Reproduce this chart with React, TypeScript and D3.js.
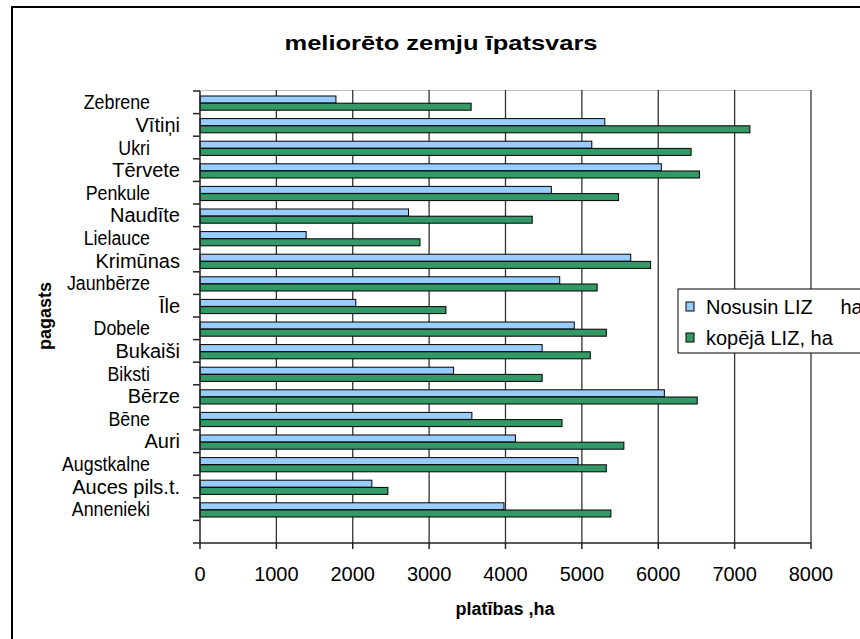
import React from "react";
import * as d3 from "d3";

const categories: string[] = [
  "", "Annenieki", "Auces pils.t.", "Augstkalne", "Auri", "Bēne", "Bērze", "Biksti",
  "Bukaiši", "Dobele", "Īle", "Jaunbērze", "Krimūnas", "Lielauce", "Naudīte",
  "Penkule", "Tērvete", "Ukri", "Vītiņi", "Zebrene",
];
const nosusin: (number | null)[] = [
  null, 3980, 2250, 4950, 4130, 3560, 6080, 3320, 4480, 4900, 2040, 4710, 5640,
  1390, 2730, 4600, 6040, 5130, 5300, 1780,
];
const kopeja: (number | null)[] = [
  null, 5380, 2460, 5320, 5550, 4740, 6510, 4480, 5110, 5320, 3220, 5200, 5900,
  2880, 4350, 5480, 6540, 6430, 7200, 3550,
];
const seriesNames = ["Nosusin LIZ     ha", "kopējā LIZ, ha"];
const seriesColors = ["#99CCFF", "#339966"];
const xTicks = [0, 1000, 2000, 3000, 4000, 5000, 6000, 7000, 8000];
const title = "meliorēto zemju īpatsvars";
const xTitle = "platības ,ha";
const yTitle = "pagasts";

const FONT = "'Liberation Sans', Arial, sans-serif";

export default function App() {
  const left = 200, right = 811, top = 91, bottom = 543;
  const x = d3.scaleLinear().domain([0, 8000]).range([left, right]);
  const y = d3.scaleBand<string>()
    .domain(categories.map((c, i) => i + "|" + c).reverse())
    .range([top, bottom])
    .paddingInner(0)
    .paddingOuter(0);
  const bw = y.bandwidth();
  const keys = categories.map((c, i) => i + "|" + c);
  const series = [nosusin, kopeja];

  return (
    <svg width={860} height={639} style={{ position: "absolute", left: 0, top: 0, background: "#fff" }} fontFamily={FONT}>
      <rect x={0} y={0} width={860} height={639} fill="#fff" />
      <rect x={12} y={7} width={900} height={700} fill="#fff" stroke="#000" strokeWidth={2} />
      <text x={441} y={50} fontSize={21} fontWeight="bold" textAnchor="middle" textLength={313} lengthAdjust="spacingAndGlyphs">{title}</text>

      {/* plot area border (top) */}
      <line x1={left} x2={right} y1={top - 0.5} y2={top - 0.5} stroke="#c0c0c0" strokeWidth={1} />
      {/* gridlines */}
      {xTicks.slice(1).map((t) => (
        <line key={"g" + t} x1={x(t)} x2={x(t)} y1={top - 1} y2={bottom} stroke="#333" strokeWidth={1.3} />
      ))}

      {/* bars */}
      {keys.map((k, i) =>
        series.map((s, si) => {
          const v = s[i];
          if (v == null) return null;
          const y0 = (y(k) as number) + 5 + si * 7.2;
          return (
            <rect key={k + si} x={x(0)} y={y0} width={x(v) - x(0)} height={7}
              fill={seriesColors[si]} stroke="#000" strokeWidth={1} />
          );
        })
      )}

      {/* axes */}
      <line x1={left} x2={left} y1={top} y2={bottom} stroke="#222" strokeWidth={1.5} />
      <line x1={left - 7} x2={right} y1={bottom} y2={bottom} stroke="#222" strokeWidth={1.5} />
      {keys.map((k) => (
        <line key={"yt" + k} x1={left - 7} x2={left} y1={y(k) as number} y2={y(k) as number} stroke="#222" strokeWidth={1.5} />
      ))}
      {xTicks.map((t) => (
        <g key={"xt" + t}>
          <line x1={x(t)} x2={x(t)} y1={bottom} y2={bottom + 6} stroke="#222" strokeWidth={1.5} />
          <text x={x(t)} y={581} fontSize={20} textAnchor="middle">{t}</text>
        </g>
      ))}

      {/* category labels */}
      {keys.map((k, i) => {
        const name = categories[i];
        if (!name) return null;
        const cy = (y(k) as number) + bw / 2 + 7;
        if (i % 2 === 1) {
          return (
            <text key={"l" + k} transform={`translate(150,${cy}) scale(0.89,1)`} fontSize={20} textAnchor="end">{name}</text>
          );
        }
        return (
          <text key={"l" + k} x={180} y={cy} fontSize={20} textAnchor="end">{name}</text>
        );
      })}

      <text x={505} y={615} fontSize={18} fontWeight="bold" textAnchor="middle">{xTitle}</text>
      <text transform="translate(51,316) rotate(-90)" fontSize={18} fontWeight="bold" textAnchor="middle">{yTitle}</text>

      {/* legend */}
      <rect x={678} y={289} width={250} height={64} fill="#fff" stroke="#000" strokeWidth={1} />
      {seriesNames.map((n, i) => (
        <g key={"lg" + i}>
          <rect x={686} y={302 + i * 31} width={8} height={9} fill={seriesColors[i]} stroke="#000" strokeWidth={1} />
          <text x={706} y={314 + i * 31} fontSize={20} style={{ whiteSpace: "pre" }}>{n}</text>
        </g>
      ))}
    </svg>
  );
}
